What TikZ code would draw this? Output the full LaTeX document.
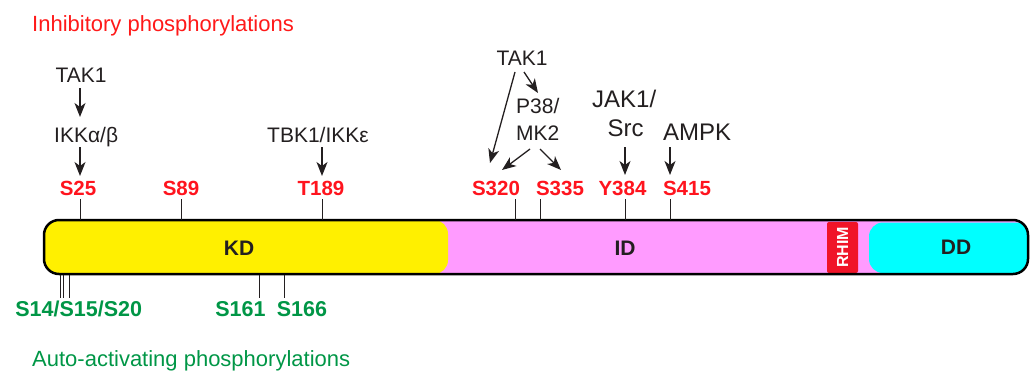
\documentclass[tikz,border=0pt]{standalone}
\usepackage{fontspec}
\setmainfont{Liberation Sans}
\usetikzlibrary{arrows.meta}
\definecolor{inhred}{RGB}{255,25,25}
\definecolor{labred}{RGB}{255,20,30}
\definecolor{actgreen}{RGB}{0,150,70}
\definecolor{kdyellow}{RGB}{255,240,0}
\definecolor{idpink}{RGB}{255,155,255}
\definecolor{ddcyan}{RGB}{0,255,255}
\definecolor{rhimred}{RGB}{240,20,40}
\definecolor{txtblack}{RGB}{35,31,32}
\begin{document}
\begin{tikzpicture}[x=1pt,y=-1pt,
  txt/.style={inner sep=0pt, text=txtblack, font=\fontsize{21}{25}\selectfont},
  bigtxt/.style={inner sep=0pt, text=txtblack, font=\fontsize{24}{28}\selectfont},
  site/.style={inner sep=0pt, anchor=base, text=labred, font=\bfseries\fontsize{20.5}{24}\selectfont},
  asite/.style={site, text=actgreen, font=\bfseries\fontsize{21.5}{24}\selectfont},
  dom/.style={inner sep=0pt, text=txtblack, font=\bfseries\fontsize{21}{24}\selectfont},
  arr/.style={-{Stealth[length=14pt,width=11pt,inset=4pt]}, line width=1.3pt, draw=txtblack},
  tickl/.style={line width=1pt, draw=txtblack}]
\useasboundingbox (0,0) rectangle (1032,372);

% ---- protein bar ----
\begin{scope}
  \clip[rounded corners=15] (44,220) rectangle (1028,274);
  \fill[idpink] (44,220) rectangle (1028,274);
  \fill[kdyellow, rounded corners=14] (30,220) rectangle (448,274);
  \fill[ddcyan, rounded corners=14] (869,222.5) rectangle (1040,273);
  \fill[rhimred, rounded corners=2] (827,222) rectangle (858,273);
\end{scope}
\draw[line width=2.5pt, draw=black, rounded corners=15] (44,220) rectangle (1028,274);
\node[dom] (kd) at (239,248) {KD};
\node[dom] (id) at (625,248) {ID};
\node[dom] (dd) at (956,247) {DD};
\node[inner sep=0pt, rotate=90, text=white, font=\bfseries\fontsize{16}{18}\selectfont] (rhim) at (842.5,247.5) {RHIM};

% ---- ticks ----
\foreach \x in {80,181,322,515,540,625,670} \draw[tickl] (\x,199) -- (\x,220);
\foreach \x in {60,63.3,69.3,259,284} \draw[tickl] (\x,275) -- (\x,298);

% ---- titles ----
\node[inner sep=0pt, anchor=base west, text=inhred, font=\fontsize{22}{26}\selectfont] (inh) at (32,31) {Inhibitory phosphorylations};
\node[inner sep=0pt, anchor=base west, text=actgreen, font=\fontsize{22}{26}\selectfont] (auto) at (32,366) {Auto-activating phosphorylations};

% ---- kinases ----
\node[txt, anchor=base] (tak1a) at (81,82) {TAK1};
\node[txt, anchor=base west] (ikk) at (54,142) {IKKα/β};
\node[txt, anchor=base west] (tbk) at (267,142) {TBK1/IKKε};
\node[txt, anchor=base] (tak1b) at (522,65) {TAK1};
\node[txt, anchor=base west] (p38) at (516,113) {P38/};
\node[txt, anchor=base west] (mk2) at (516,140) {MK2};
\node[bigtxt, anchor=base west] (jak) at (592,107) {JAK1/};
\node[bigtxt, anchor=base] (src) at (625.5,136) {Src};
\node[bigtxt, anchor=base west] (ampk) at (663,140) {AMPK};

% ---- sites ----
\node[site] (s25) at (78,195) {S25};
\node[site] (s89) at (181,195) {S89};
\node[site] (t189) at (321,195) {T189};
\node[site] (s320) at (496,195) {S320};
\node[site] (s335) at (560,195) {S335};
\node[site] (y384) at (622.5,195) {Y384};
\node[site] (s415) at (687,195) {S415};
\node[asite] (s14) at (78.7,316) {S14/S15/S20};
\node[asite] (s161) at (240.5,316) {S161};
\node[asite] (s166) at (302,316) {S166};

% ---- arrows ----
\draw[arr] ([shift={(-1,6)}]tak1a.base) -- ([shift={(26,-25)}]ikk.base west);
\draw[arr] ([shift={(26,5)}]ikk.base west) -- ([shift={(2,-19)}]s25.base);
\draw[arr] ([shift={(55,5)}]tbk.base west) -- ([shift={(1,-19)}]t189.base);
\draw[arr] ([shift={(-7,7)}]tak1b.base) -- ([shift={(-6,-32)}]s320.base);
\draw[arr] ([shift={(2,7)}]tak1b.base) -- ([shift={(22,-20)}]p38.base west);
\draw[arr] ([shift={(14,9)}]mk2.base west) -- ([shift={(6,-25)}]s320.base);
\draw[arr] ([shift={(24,9)}]mk2.base west) -- ([shift={(1,-25)}]s335.base);
\draw[arr] ([shift={(-0.5,11)}]src.base) -- ([shift={(2.5,-20)}]y384.base);
\draw[arr] ([shift={(7,7)}]ampk.base west) -- ([shift={(-17,-20)}]s415.base);
\end{tikzpicture}
\end{document}
